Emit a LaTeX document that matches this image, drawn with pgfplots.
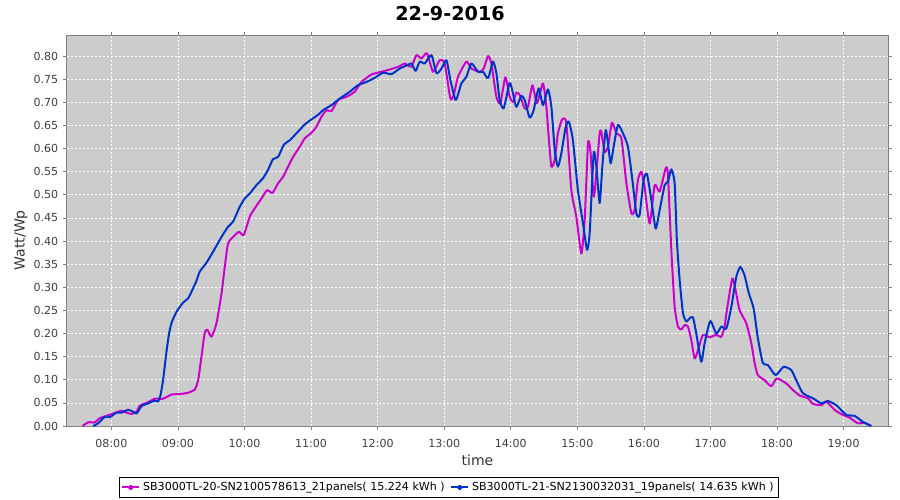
\documentclass[border=0pt]{standalone}
\usepackage{fontspec}
\setmainfont{DejaVu Sans}
\usepackage{pgfplots}
\pgfplotsset{compat=1.18}

\definecolor{invA}{RGB}{204,0,204}
\definecolor{invB}{RGB}{0,51,204}
\definecolor{plotbg}{RGB}{204,204,204}
\definecolor{frame}{RGB}{128,128,128}

% time in minutes since midnight, value in Watt/Wp
\pgfplotstableread{
t y
454.0 0.000
459.1 0.008
465.1 0.008
469.6 0.017
475.6 0.022
481.6 0.027
489.2 0.033
493.7 0.029
498.2 0.026
502.7 0.031
505.6 0.044
511.7 0.050
519.2 0.059
526.6 0.059
534.2 0.068
541.7 0.069
549.2 0.072
555.2 0.079
558.2 0.099
561.2 0.150
564.2 0.202
566.6 0.208
570.2 0.193
574.7 0.222
579.3 0.287
582.2 0.344
585.2 0.395
589.7 0.409
595.1 0.420
599.3 0.413
604.8 0.453
609.3 0.471
615.3 0.492
620.3 0.510
625.2 0.504
630.3 0.525
634.8 0.539
639.3 0.561
643.8 0.582
649.8 0.604
654.3 0.622
660.3 0.634
664.8 0.647
669.4 0.669
673.9 0.683
678.4 0.681
684.3 0.705
691.9 0.712
699.4 0.723
705.4 0.744
714.4 0.760
723.4 0.766
730.9 0.771
739.9 0.778
744.4 0.784
750.4 0.777
754.9 0.802
759.5 0.795
764.5 0.806
769.9 0.766
775.9 0.791
780.4 0.784
785.6 0.708
788.6 0.716
792.4 0.755
800.0 0.788
804.5 0.773
812.0 0.766
815.6 0.773
819.5 0.800
822.5 0.784
827.0 0.712
830.6 0.698
835.1 0.754
839.0 0.712
842.0 0.701
845.0 0.721
848.0 0.716
852.5 0.687
855.5 0.690
859.5 0.737
863.6 0.698
869.0 0.741
872.1 0.690
874.4 0.618
876.6 0.561
879.6 0.575
882.5 0.633
886.5 0.664
890.1 0.654
894.6 0.510
899.1 0.452
903.6 0.373
906.6 0.445
909.6 0.611
911.7 0.597
914.7 0.496
917.1 0.546
920.1 0.633
921.6 0.636
924.6 0.593
927.6 0.604
931.2 0.656
935.2 0.633
939.7 0.622
944.2 0.525
948.7 0.460
951.6 0.467
954.6 0.532
957.7 0.550
960.6 0.517
965.2 0.438
969.7 0.521
974.2 0.507
979.6 0.557
981.6 0.546
984.7 0.381
987.7 0.258
990.7 0.215
993.7 0.209
996.7 0.218
999.7 0.215
1002.7 0.186
1005.7 0.146
1008.7 0.164
1013.2 0.197
1019.2 0.192
1025.2 0.197
1029.8 0.193
1032.7 0.215
1034.8 0.251
1039.7 0.319
1042.6 0.294
1046.2 0.251
1052.3 0.222
1056.8 0.179
1059.8 0.136
1062.7 0.110
1068.8 0.099
1074.8 0.086
1079.8 0.103
1088.3 0.092
1094.3 0.078
1100.3 0.066
1107.8 0.060
1112.3 0.048
1119.9 0.045
1124.4 0.053
1131.8 0.035
1139.3 0.024
1145.4 0.018
1152.8 0.006
1158.9 0.007
1164.9 0.000
}\seriesA

\pgfplotstableread{
t y
463.6 0.000
468.1 0.006
474.1 0.020
478.6 0.019
484.6 0.029
489.2 0.029
495.1 0.035
499.6 0.031
502.7 0.027
507.2 0.043
513.1 0.049
519.2 0.055
522.1 0.053
524.3 0.067
526.6 0.099
529.1 0.150
531.8 0.197
534.2 0.223
538.7 0.247
544.7 0.267
549.2 0.276
553.7 0.298
556.7 0.314
559.7 0.334
565.7 0.353
571.7 0.377
579.3 0.409
585.2 0.431
589.7 0.442
595.7 0.474
600.2 0.492
604.8 0.503
610.8 0.521
616.7 0.536
621.2 0.554
625.7 0.577
630.3 0.582
635.4 0.608
640.8 0.618
646.8 0.633
654.3 0.652
660.3 0.663
666.3 0.673
670.8 0.683
678.4 0.694
685.8 0.708
694.9 0.723
702.3 0.737
709.9 0.744
717.4 0.753
724.9 0.764
732.4 0.761
739.9 0.773
747.4 0.781
750.4 0.784
754.3 0.768
757.9 0.788
762.4 0.784
768.5 0.802
773.0 0.763
777.5 0.773
782.0 0.791
785.6 0.748
790.4 0.705
795.5 0.741
800.0 0.755
804.5 0.784
810.5 0.766
815.0 0.766
819.5 0.752
824.0 0.788
827.0 0.763
830.0 0.705
833.6 0.687
839.0 0.742
842.0 0.719
845.0 0.690
849.5 0.714
852.5 0.705
857.0 0.667
860.6 0.683
865.1 0.730
869.0 0.694
873.5 0.728
876.6 0.690
879.6 0.597
882.5 0.561
885.6 0.590
889.5 0.647
892.4 0.658
896.0 0.618
900.5 0.510
905.1 0.438
908.7 0.381
911.1 0.417
914.7 0.590
917.1 0.561
920.1 0.482
922.5 0.561
925.5 0.640
927.6 0.611
930.0 0.568
932.7 0.604
936.6 0.651
941.1 0.633
945.6 0.604
949.6 0.532
953.2 0.460
956.1 0.456
959.7 0.532
962.7 0.545
966.7 0.489
970.6 0.427
974.2 0.467
978.7 0.521
981.6 0.528
984.7 0.555
987.7 0.525
989.7 0.402
992.2 0.316
995.2 0.244
998.2 0.226
1001.2 0.233
1004.2 0.235
1007.2 0.200
1011.7 0.139
1014.7 0.179
1019.8 0.227
1025.2 0.200
1029.8 0.215
1034.3 0.211
1038.8 0.258
1043.3 0.323
1046.9 0.344
1050.7 0.326
1054.6 0.287
1058.9 0.254
1062.7 0.190
1067.2 0.136
1071.7 0.132
1078.7 0.110
1085.9 0.128
1092.8 0.121
1097.3 0.099
1103.3 0.071
1112.3 0.060
1119.9 0.049
1125.8 0.054
1133.4 0.045
1142.4 0.024
1149.9 0.022
1157.3 0.009
1164.9 0.000
}\seriesB

\begin{document}
\begin{tikzpicture}
\useasboundingbox (-50.25pt,-55.5pt) rectangle (624.75pt,319.5pt);
\begin{axis}[
    at={(0pt,0pt)}, anchor=south west,
    scale only axis,
    width=615.75pt, height=292.7pt,
    xmin=440, xmax=1180,
    ymin=0, ymax=0.844,
    xtick={480,540,600,660,720,780,840,900,960,1020,1080,1140},
    xticklabels={08:00,09:00,10:00,11:00,12:00,13:00,14:00,15:00,16:00,17:00,18:00,19:00},
    ytick={0,0.05,...,0.81},
    /pgf/number format/.cd, fixed, fixed zerofill, precision=2, assume math mode=true,
    /pgfplots/.cd,
    ticklabel style={font=\fontsize{8.3}{10}\selectfont, color=black!75},
    xticklabel style={yshift=-3.5pt},
    tick align=outside,
    major tick length=3pt,
    tick style={frame, line width=0.5pt},
    axis line style={frame, line width=0.75pt},
    axis background/.style={fill=plotbg},
    grid=major,
    grid style={white, line width=0.5pt, dash pattern=on 1.5pt off 1.5pt},
    title={22-9-2016},
    title style={font=\bfseries\fontsize{14.4}{16}\selectfont, at={(axis description cs:0.4665,1)}, anchor=center, yshift=10.3pt},
    xlabel={time},
    xlabel style={font=\fontsize{10.5}{12}\selectfont, color=black!80, at={(axis description cs:0.5,0)}, anchor=center, yshift=-25.5pt},
    ylabel={Watt/Wp},
    ylabel style={font=\fontsize{10.5}{12}\selectfont, color=black!80, at={(axis description cs:0,0.476)}, anchor=center, yshift=34.5pt},
    legend columns=2,
    legend style={at={(axis description cs:0.465,0)}, anchor=center, yshift=-46.1pt,
        draw=black, fill=white, line width=0.75pt, font=\fontsize{8.3}{10}\selectfont,
        inner sep=1.5pt, /tikz/every even column/.append style={column sep=2pt}},
    legend image code/.code={
        \draw[#1] (0pt,0pt) -- (13pt,0pt);
        \fill[#1] (6.5pt,0pt) circle (1.3pt);
    },
    clip mode=individual,
]
\addplot[invA, line width=1.5pt, smooth, tension=0.35, line join=round] table[x=t, y=y] {\seriesA};
\addlegendentry{SB3000TL-20-SN2100578613\_21panels( 15.224 kWh )}
\addplot[invB, line width=1.5pt, smooth, tension=0.35, line join=round] table[x=t, y=y] {\seriesB};
\addlegendentry{SB3000TL-21-SN2130032031\_19panels( 14.635 kWh )}
\end{axis}
\end{tikzpicture}
\end{document}
